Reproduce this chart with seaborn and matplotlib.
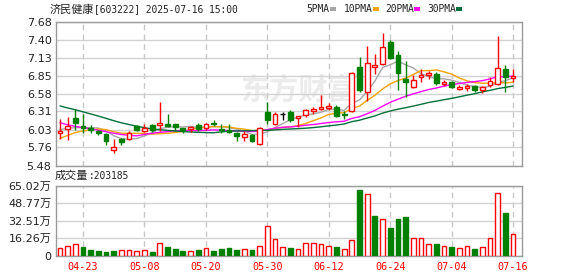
import numpy as np
import pandas as pd
import matplotlib
matplotlib.use("Agg")
import matplotlib.pyplot as plt
import seaborn as sns
from matplotlib.patches import Rectangle

# ---------------- data ----------------
dates = ["04-18", "04-21", "04-22", "04-23", "04-24", "04-25", "04-28", "04-29", "04-30",
         "05-06", "05-07", "05-08", "05-09", "05-12", "05-13", "05-14", "05-15", "05-16",
         "05-19", "05-20", "05-21", "05-22", "05-23", "05-26", "05-27", "05-28", "05-29", "05-30",
         "06-03", "06-04", "06-05", "06-06", "06-09", "06-10", "06-11", "06-12", "06-13",
         "06-16", "06-17", "06-18", "06-19", "06-20", "06-23", "06-24", "06-25", "06-26",
         "06-27", "06-30", "07-01", "07-02", "07-03", "07-04", "07-07", "07-08", "07-09",
         "07-10", "07-11", "07-14", "07-15", "07-16"]

opens = [5.97, 6.04, 6.21, 6.08, 6.06, 6.01, 5.96, 5.71, 5.88, 5.89,
         6.09, 6.01, 6.10, 6.10, 6.11, 6.11, 6.05, 6.04, 6.10, 6.06,
         6.13, 6.04, 6.02, 5.98, 5.92, 5.95, 5.81, 6.30, 6.11, 6.26,
         6.30, 6.21, 6.25, 6.32, 6.34, 6.36, 6.38, 6.26, 6.31, 6.99,
         6.61, 6.98, 7.03, 7.37, 7.17, 6.80, 6.68, 6.83, 6.87, 6.88,
         6.73, 6.76, 6.65, 6.66, 6.70, 6.63, 6.71, 6.72, 6.95, 6.82]
highs = [6.19, 6.22, 6.35, 6.26, 6.10, 6.03, 5.97, 5.88, 5.90, 6.01,
         6.10, 6.11, 6.11, 6.45, 6.27, 6.12, 6.06, 6.09, 6.13, 6.13,
         6.18, 6.11, 6.11, 5.99, 6.00, 5.96, 6.07, 6.45, 6.29, 6.30,
         6.33, 6.24, 6.35, 6.38, 6.56, 6.43, 6.40, 6.32, 6.91, 7.14,
         7.31, 7.19, 7.51, 7.39, 7.23, 7.07, 6.86, 6.95, 6.92, 6.91,
         6.79, 6.77, 6.71, 6.72, 6.71, 6.70, 6.83, 7.46, 7.02, 6.95]
lows = [5.89, 5.87, 6.03, 5.98, 5.97, 5.95, 5.79, 5.67, 5.79, 5.87,
        6.00, 5.99, 5.99, 6.00, 6.07, 6.00, 5.98, 5.99, 6.01, 6.03,
        6.08, 5.98, 5.97, 5.85, 5.86, 5.84, 5.80, 6.12, 6.10, 6.18,
        6.15, 6.07, 6.22, 6.27, 6.33, 6.33, 6.22, 6.19, 6.30, 6.61,
        6.46, 6.88, 7.02, 7.10, 6.64, 6.53, 6.66, 6.76, 6.80, 6.71,
        6.70, 6.67, 6.63, 6.62, 6.61, 6.59, 6.68, 6.71, 6.61, 6.76]
closes = [6.01, 6.08, 6.13, 6.06, 6.02, 5.97, 5.86, 5.76, 5.84, 5.98,
          6.02, 6.06, 6.02, 6.13, 6.09, 6.07, 6.03, 6.07, 6.04, 6.12,
          6.11, 6.03, 5.99, 5.93, 5.96, 5.86, 6.05, 6.17, 6.26, 6.26,
          6.17, 6.24, 6.33, 6.35, 6.38, 6.39, 6.24, 6.25, 6.90, 6.63,
          7.04, 7.02, 7.29, 7.12, 6.90, 6.76, 6.78, 6.86, 6.89, 6.74,
          6.75, 6.68, 6.68, 6.69, 6.63, 6.68, 6.77, 6.97, 6.83, 6.85]
# volume, in 万 (10k)
volumes = [6.6, 8.5, 10.4, 7.9, 5.0, 4.1, 3.2, 4.1, 4.7, 4.7,
           3.8, 4.7, 3.2, 11.4, 7.9, 6.0, 4.1, 3.8, 5.0, 6.6,
           4.1, 6.0, 6.9, 5.0, 5.7, 5.0, 8.5, 27.5, 15.1, 7.6,
           6.9, 5.7, 11.4, 11.4, 10.4, 8.5, 7.9, 5.7, 14.2, 60.9,
           57.1, 37.2, 34.1, 25.9, 34.4, 36.3, 16.1, 16.1, 10.4, 10.7,
           8.5, 7.9, 6.6, 8.5, 6.0, 7.6, 16.1, 58.7, 40.1, 20.3185]
# closes of the 29 sessions before the window (feed the moving averages)
prior_closes = [7.00, 6.95, 7.02, 6.98, 6.95, 6.90, 6.85, 6.80, 6.78, 6.77,
                6.75, 6.60, 6.45, 6.42, 6.35, 6.30, 6.25, 6.22, 6.20, 6.21,
                5.62, 5.70, 5.80, 5.90, 5.78, 5.98, 6.08, 6.06, 6.01]
last_volume = "203185"
title_name = "济民健康"
title_rest = "[603222] 2025-07-16 15:00"
price_ticks = [5.48, 5.76, 6.03, 6.31, 6.58, 6.85, 7.13, 7.40, 7.68]
price_labels = ["5.48", "5.76", "6.03", "6.31", "6.58", "6.85", "7.13", "7.40", "7.68"]
vol_ticks = [0, 16.26, 32.51, 48.77, 65.02]
vol_labels = ["0", "16.26万", "32.51万", "48.77万", "65.02万"]
ma_windows = [5, 10, 20, 30]
ma_names = ["5PMA", "10PMA", "20PMA", "30PMA"]

# ---------------- style ----------------
RED = "#ff0000"
GREEN = "#008000"
ma_colors = ["#a6a6a6", "#f5a300", "#ff00ff", "#00703a"]
GRID = "#d2d2d2"
FRAME = "#9a9a9a"
TXT = "#222222"

sns.set_theme(style="white")
plt.rcParams["font.family"] = ["DejaVu Sans", "Noto Sans CJK SC"]
MONO = ["DejaVu Sans Mono", "Noto Sans CJK SC"]
CJK = ["Noto Sans CJK SC", "DejaVu Sans"]

W, H = 578, 276
fig = plt.figure(figsize=(W / 100, H / 100), dpi=100)
fig.patch.set_facecolor("white")


def fx(px):
    return px / W


def fy(py):
    return 1 - py / H


LEFT, RIGHT = 55.7, 522.0
P_TOP, P_BOT = 21.5, 165.5
V_TOP, V_BOT = 186.0, 255.5
ax = fig.add_axes([fx(LEFT), fy(P_BOT), (RIGHT - LEFT) / W, (P_BOT - P_TOP) / H])
axv = fig.add_axes([fx(LEFT), fy(V_BOT), (RIGHT - LEFT) / W, (V_BOT - V_TOP) / H])

n = len(closes)
idx = np.arange(n)
o = np.array(opens)
c = np.array(closes)
h = np.array(highs)
lo = np.array(lows)
v = np.array(volumes)
label_idx = idx[3::8]

# ---------------- price panel ----------------
up = c > o
down = c < o
flat = c == o
wick_col = np.where(up, RED, np.where(down, GREEN, "black"))
ax.vlines(idx, lo, h, colors=wick_col, lw=1, zorder=3)
bw = 0.62
bottom = np.minimum(o, c)
height = np.abs(c - o)
ax.bar(idx[up], height[up], bottom=bottom[up], width=bw, facecolor="white",
       edgecolor=RED, lw=1, zorder=4)
ax.bar(idx[down], height[down], bottom=bottom[down], width=bw, facecolor=GREEN,
       edgecolor=GREEN, lw=1, zorder=4)
ax.hlines(c[flat], idx[flat] - bw / 2, idx[flat] + bw / 2, colors="black", lw=1, zorder=4)

all_close = pd.Series(prior_closes + closes)
k = len(prior_closes)
for w, colr in zip(ma_windows, ma_colors):
    ma = all_close.rolling(w).mean().iloc[k:].to_numpy()
    sns.lineplot(x=idx, y=ma, ax=ax, color=colr, lw=1, zorder=2.5, legend=False)

ax.text(0.52, 0.53, "东方财富", transform=ax.transAxes, fontsize=21, color="#ebebeb",
        family=CJK, fontweight="bold", ha="center", va="center", zorder=0.5)

ax.set_xlim(-0.56, 60.16)
ax.set_ylim(5.48, 7.68)
ax.set_yticks(price_ticks)
ax.set_yticklabels(price_labels, fontsize=8, color=TXT)
ax.set_xticks(label_idx)
ax.set_xticklabels([])
ax.set_xlabel("")
ax.set_ylabel("")
ax.tick_params(length=0, pad=3)
ax.yaxis.grid(True, color=GRID, lw=1)
ax.xaxis.grid(True, color="#c8c8c8", lw=1, ls=(0, (4, 3)))
ax.set_axisbelow(True)
for s in ax.spines.values():
    s.set_color(FRAME)
    s.set_linewidth(1)

# ---------------- volume panel ----------------
prev_close = np.array([prior_closes[-1]] + closes[:-1])
vup = c >= prev_close
axv.bar(idx[vup], v[vup], width=bw, facecolor="white", edgecolor=RED, lw=1, zorder=3)
axv.bar(idx[~vup], v[~vup], width=bw, facecolor=GREEN, edgecolor=GREEN, lw=1, zorder=3)
axv.set_xlim(-0.56, 60.16)
axv.set_ylim(0, 65.02)
axv.set_yticks(vol_ticks)
axv.set_yticklabels(vol_labels, fontsize=8, color=TXT)
axv.set_xticks(label_idx)
axv.set_xticklabels([dates[i] for i in label_idx], fontsize=7.3, color=RED, family=MONO)
axv.tick_params(length=0, pad=3)
axv.tick_params(axis="x", pad=5)
axv.yaxis.grid(True, color=GRID, lw=1)
axv.xaxis.grid(True, color="#c8c8c8", lw=1, ls=(0, (4, 3)))
axv.set_axisbelow(True)
for s in axv.spines.values():
    s.set_color(FRAME)
    s.set_linewidth(1)

# ---------------- header texts ----------------
fig.text(fx(50), fy(9.5), title_name, fontsize=8, family=CJK, color=TXT, va="center", ha="left")
fig.text(fx(94.5), fy(9.5), title_rest, fontsize=6.9, family=MONO, color=TXT, va="center", ha="left")

leg_x = [306, 344, 385, 427]
sq_x = [330, 373, 414, 456]
for name, colr, tx, sx in zip(ma_names, ma_colors, leg_x, sq_x):
    fig.text(fx(tx), fy(9.5), name, fontsize=6.9, family=MONO, color=TXT, va="center", ha="left")
    fig.patches.append(Rectangle((fx(sx), fy(11)), 6 / W, 4 / H, transform=fig.transFigure,
                                 facecolor=colr, edgecolor="none"))

fig.text(fx(55), fy(176), "成交量", fontsize=8, family=CJK, color=TXT, va="center", ha="left")
fig.text(fx(89), fy(176), ":" + last_volume, fontsize=6.9, family=MONO, color=TXT, va="center", ha="left")

fig.savefig("out.png", dpi=100, facecolor="white")
